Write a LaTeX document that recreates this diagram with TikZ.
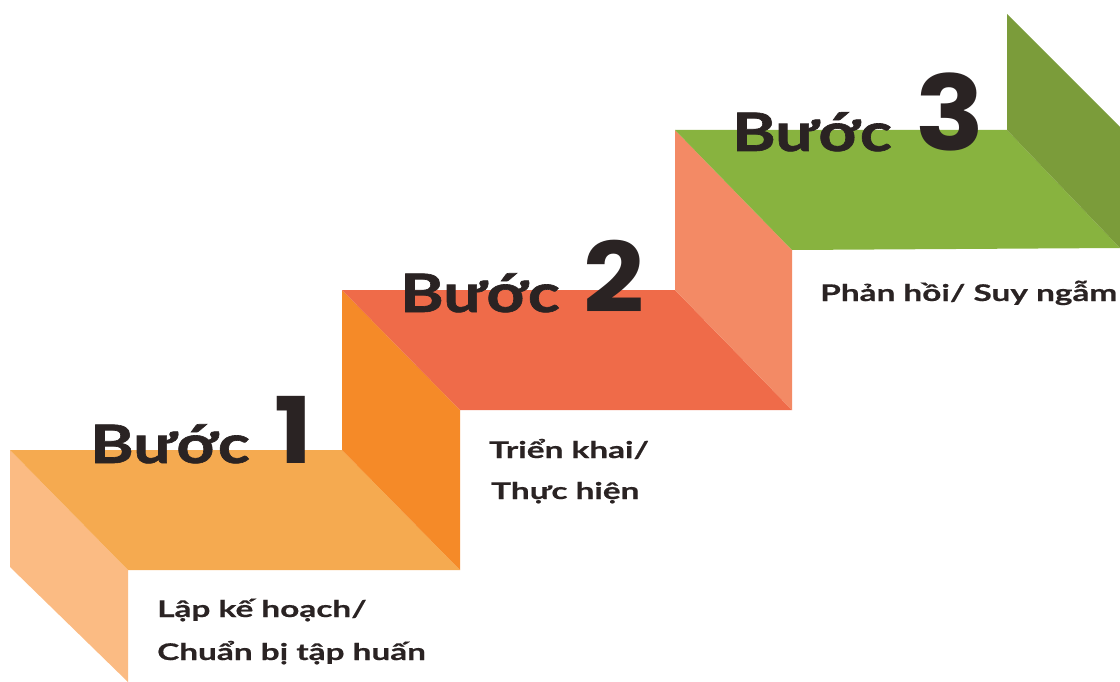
\documentclass[tikz,border=0pt]{standalone}
\usepackage{fontspec}
\setmainfont{Lato}
\newfontfamily\titlefont{Lato}[FakeStretch=1.25,FakeBold=1.2]
\newfontfamily\labelfont{Lato}[FakeStretch=1.45,FakeBold=0.6]
\newfontfamily\numfont{Poppins}[FakeStretch=1.1]
\definecolor{sideA}{HTML}{FBBB83}
\definecolor{topA}{HTML}{F5AA50}
\definecolor{riserB}{HTML}{F58A28}
\definecolor{topB}{HTML}{EF6B49}
\definecolor{riserC}{HTML}{F38A65}
\definecolor{topC}{HTML}{88B33F}
\definecolor{riserD}{HTML}{7B9C3A}
\definecolor{ink}{HTML}{2A2323}
\begin{document}
\begin{tikzpicture}[x=1pt,y=-1pt,
  steptitle/.style={anchor=base west,inner sep=0pt,text=ink,font=\fontsize{53}{60}\titlefont\bfseries},
  stepnum/.style={anchor=base west,inner sep=0pt,text=ink,font=\fontsize{#1}{100}\numfont\bfseries},
  steplabel/.style={anchor=base west,inner sep=0pt,text=ink,font=\fontsize{23}{24}\labelfont\bfseries}]
\useasboundingbox (0,0) rectangle (1120,682);
% step 1
\fill[sideA] (10,450) -- (128,570) -- (128,682) -- (10,567) -- cycle;
\fill[topA] (10,450) -- (342,450) -- (460,570) -- (128,570) -- cycle;
% step 2
\fill[riserB] (342,290) -- (460,410) -- (460,570) -- (342,450) -- cycle;
\fill[topB] (342,290) -- (675,290) -- (792,410) -- (460,410) -- cycle;
% step 3
\fill[riserC] (675,130) -- (792,250) -- (792,410) -- (675,290) -- cycle;
\fill[topC] (675,130) -- (1007,130) -- (1120,248) -- (792,250) -- cycle;
% step 4 riser
\fill[riserD] (1007,14) -- (1120,127) -- (1120,248) -- (1007,130) -- cycle;
% titles
\node[steptitle] (t1) at (90,463) {Bước};
\node[stepnum=92] (n1) at (274,463) {1};
\node[steptitle] (t2) at (400,312) {Bước};
\node[stepnum=97] (n2) at (583,312) {2};
\node[steptitle] (t3) at (732,151) {Bước};
\node[stepnum=104] (n3) at (915,151) {3};
% labels
\node[steplabel] (l1a) at (157,617) {Lập kế hoạch/};
\node[steplabel] (l1b) at (157,660) {Chuẩn bị tập huấn};
\node[steplabel] (l2a) at (489,458) {Triển khai/};
\node[steplabel] (l2b) at (491,499) {Thực hiện};
\node[steplabel] (l3) at (820,301) {Phản hồi/ Suy ngẫm};
\end{tikzpicture}
\end{document}
